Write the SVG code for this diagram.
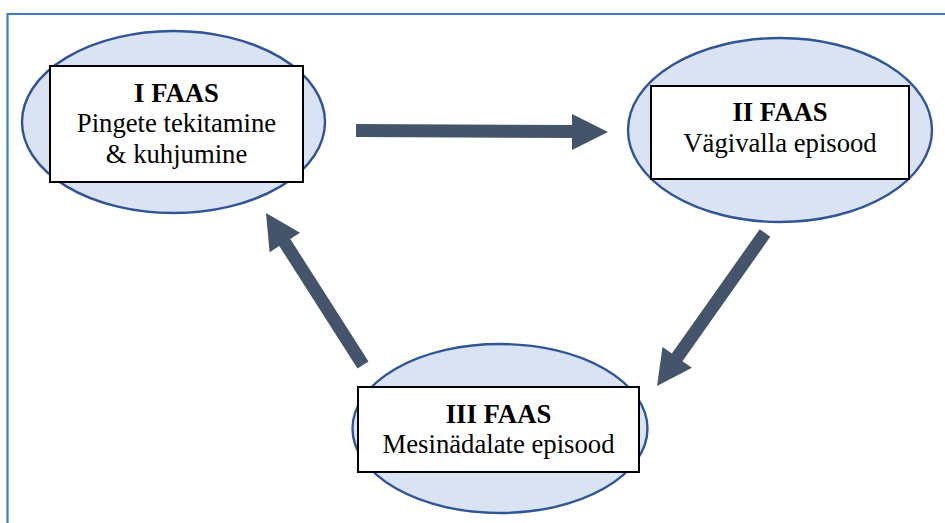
<svg xmlns="http://www.w3.org/2000/svg" width="945" height="523" viewBox="0 0 945 523">
  <style>
    .frame { fill: none; stroke: #3E7CC4; stroke-width: 2.2; }
    .ell { fill: #DAE3F3; stroke: #2F5597; stroke-width: 2.4; }
    .box { fill: #FFFFFF; stroke: #000000; stroke-width: 2; }
    .t { font-family: 'Liberation Serif', 'DejaVu Serif', serif; font-size: 26.7px; fill: #000000; text-anchor: middle; }
    .b { font-weight: bold; }
    .arrow { fill: #44546A; stroke: none; }
  </style>
  <rect x="0" y="0" width="945" height="523" fill="#FFFFFF"/>
  <path class="frame" d="M7.5,523 V14 H945"/>

  <g id="connectors">
    <polygon class="arrow" points="356,124 572,125 572,114 608,132 572,150 572,138 356,137"/>
    <polygon class="arrow" points="770.3,236.8 682.5,361.2 691.9,367.8 657,386 662.5,347 671.9,353.6 759.7,229.2"/>
    <polygon class="arrow" points="368.5,361.5 290.3,239 300,232.8 266,213 269.6,252.2 279.3,246 357.5,368.5"/>
  </g>

  <g id="phase1">
    <ellipse class="ell" cx="173.5" cy="122" rx="151.5" ry="91"/>
    <rect class="box" x="50" y="66" width="253" height="116"/>
    <text class="t b" x="176.5" y="102">I FAAS</text>
    <text class="t" x="176.5" y="132">Pingete tekitamine</text>
    <text class="t" x="176.5" y="163">&amp; kuhjumine</text>
  </g>

  <g id="phase2">
    <ellipse class="ell" cx="780" cy="130" rx="152" ry="92"/>
    <rect class="box" x="651" y="86" width="258" height="93"/>
    <text class="t b" x="780" y="121">II FAAS</text>
    <text class="t" x="780" y="152">Vägivalla episood</text>
  </g>

  <g id="phase3">
    <ellipse class="ell" cx="500" cy="428.5" rx="147.5" ry="84.5"/>
    <rect class="box" x="358" y="387" width="281" height="85"/>
    <text class="t b" x="498.5" y="423">III FAAS</text>
    <text class="t" x="498.5" y="453">Mesinädalate episood</text>
  </g>
</svg>
